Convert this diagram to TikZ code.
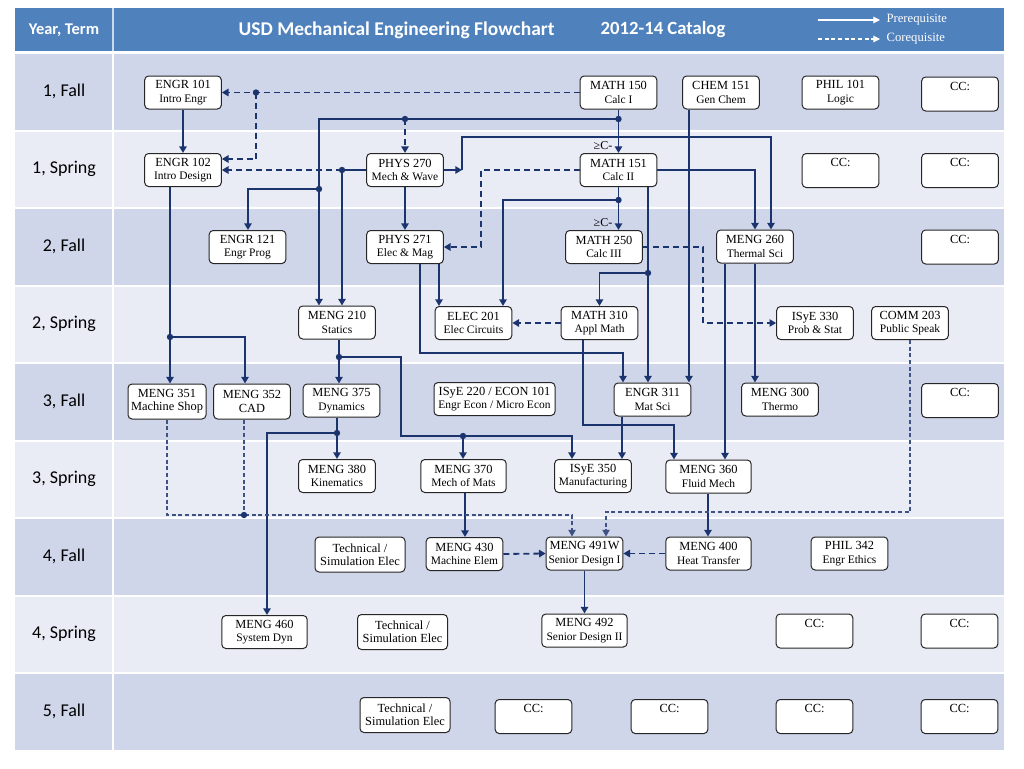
\documentclass[tikz,border=0pt]{standalone}
\usepackage{fontspec}
\setmainfont{Liberation Serif}
\newfontfamily\calibri{Carlito}
\usetikzlibrary{arrows.meta}
\definecolor{hdr}{RGB}{79,129,189}
\definecolor{rowA}{RGB}{207,214,234}
\definecolor{rowB}{RGB}{233,235,245}
\definecolor{navy}{RGB}{28,52,110}
\newcommand\crs[2]{#1\\{\fontsize{8.6}{10}\selectfont #2}}
\newcommand\crsb[2]{#1\\#2}
\begin{document}
\begin{tikzpicture}[x=0.75pt,y=-0.75pt,
  course/.style={draw=black!85, fill=white, rounded corners=3pt, line width=0.75pt, align=center,
    inner sep=1pt, minimum width=57.5pt, minimum height=24.75pt, font=\fontsize{9.3}{10}\selectfont},
  wide/.style={course, minimum width=64pt},
  tech/.style={course, minimum width=67.5pt, minimum height=26.25pt},
  ccbox/.style={course, minimum height=25.5pt},
  pre/.style={draw=navy, line width=1.35pt, -{Triangle[length=5pt,width=5.5pt]}},
  lin/.style={draw=navy, line width=1.35pt},
  co/.style={pre, dash pattern=on 4.5pt off 3pt},
  fco/.style={draw=navy!85, line width=0.9pt, dash pattern=on 3pt off 2pt, -{Triangle[length=5pt,width=5.5pt]}},
  rowlab/.style={font=\calibri\fontsize{13.5}{15}\selectfont},
  lbl/.style={font=\fontsize{9}{10}\selectfont, inner sep=0pt}
]
\useasboundingbox (0,0) rectangle (1024,768);
% header
\fill[hdr] (15,8) rectangle (1004,51);
\draw[white!70!hdr, line width=1.5pt] (113,8) -- (113,51);
\node[text=white, font=\calibri\bfseries\fontsize{12.3}{14}\selectfont] (hyt) at (64,30) {Year, Term};
\node[text=white, font=\calibri\bfseries\fontsize{14.6}{16}\selectfont, anchor=west] (htitle) at (234,30) {USD Mechanical Engineering Flowchart};
\node[text=white, font=\calibri\bfseries\fontsize{14}{16}\selectfont, anchor=west] (hcat) at (596,30) {2012-14 Catalog};
\coordinate (lgA1) at (818,20); \coordinate (lgA2) at (880,20);
\coordinate (lgB1) at (818,39); \coordinate (lgB2) at (880,39);
\draw[white, line width=0.8pt, -{Triangle[length=5pt,width=5pt]}] (lgA1) -- (lgA2);
\draw[white, line width=0.8pt, dash pattern=on 3pt off 2pt, -{Triangle[length=5pt,width=5pt]}] (lgB1) -- (lgB2);
\node[text=white, anchor=west, font=\fontsize{9.5}{10}\selectfont, inner sep=1pt] (lgA) at (885,20) {Prerequisite};
\node[text=white, anchor=west, font=\fontsize{9.5}{10}\selectfont, inner sep=1pt] (lgB) at (885,39) {Corequisite};
% rows
\fill[rowA] (15,54) rectangle (1004,129.5);
\fill[rowB] (15,131.5) rectangle (1004,207);
\fill[rowA] (15,209) rectangle (1004,284.5);
\fill[rowB] (15,286.5) rectangle (1004,362);
\fill[rowA] (15,364) rectangle (1004,439.5);
\fill[rowB] (15,441.5) rectangle (1004,517);
\fill[rowA] (15,519) rectangle (1004,594.5);
\fill[rowB] (15,596.5) rectangle (1004,672);
\fill[rowA] (15,674) rectangle (1004,749.5);
\draw[white, line width=1.5pt] (113,54) -- (113,750);
\node[rowlab] (r1) at (64,91.75) {1, Fall};
\node[rowlab] (r2) at (64,169.25) {1, Spring};
\node[rowlab] (r3) at (64,246.75) {2, Fall};
\node[rowlab] (r4) at (64,324.25) {2, Spring};
\node[rowlab] (r5) at (64,401.75) {3, Fall};
\node[rowlab] (r6) at (64,479.25) {3, Spring};
\node[rowlab] (r7) at (64,556.75) {4, Fall};
\node[rowlab] (r8) at (64,634.25) {4, Spring};
\node[rowlab] (r9) at (64,711.75) {5, Fall};
% courses
\node[course] (engr101) at (183,92.5) {\crs{ENGR 101}{Intro Engr}};
\node[course] (math150) at (618.5,92.5) {\crs{MATH 150}{Calc I}};
\node[course] (chem151) at (721,92.5) {\crs{CHEM 151}{Gen Chem}};
\node[course] (phil101) at (840.5,92.5) {\crs{PHIL 101}{Logic}};
\node[ccbox] (cc1) at (960,94) {\raisebox{12pt}{CC:}};
\node[course] (engr102) at (183,170) {\crs{ENGR 102}{Intro Design}};
\node[course] (phys270) at (405,170) {\crs{PHYS 270}{Mech \& Wave}};
\node[course] (math151) at (618.5,170) {\crs{MATH 151}{Calc II}};
\node[ccbox] (cc2) at (840.5,170.5) {\raisebox{12pt}{CC:}};
\node[ccbox] (cc3) at (960,170.5) {\raisebox{12pt}{CC:}};
\node[course] (engr121) at (247.5,247) {\crs{ENGR 121}{Engr Prog}};
\node[course] (phys271) at (405,247) {\crs{PHYS 271}{Elec \& Mag}};
\node[course] (math250) at (604,247) {\crs{MATH 250}{Calc III}};
\node[course] (meng260) at (755,246.5) {\crs{MENG 260}{Thermal Sci}};
\node[ccbox] (cc4) at (960,247) {\raisebox{12pt}{CC:}};
\node[course] (meng210) at (337,322.5) {\crs{MENG 210}{Statics}};
\node[course] (elec201) at (473.5,323) {\crs{ELEC 201}{Elec Circuits}};
\node[course] (math310) at (599.5,323) {\crs{MATH 310}{Appl Math}};
\node[course] (isye330) at (815,323) {\crs{ISyE 330}{Prob \& Stat}};
\node[course] (comm203) at (910,323) {\crs{COMM 203}{Public Speak}};
\node[course, minimum width=58.5pt, minimum height=26.25pt] (meng351) at (167,401.5) {\crsb{MENG 351}{Machine Shop}};
\node[course, minimum height=26.25pt] (meng352) at (252,401.5) {\crsb{MENG 352}{CAD}};
\node[course] (meng375) at (341.5,400.5) {\crs{MENG 375}{Dynamics}};
\node[course, minimum width=90.75pt] (isye220) at (494.5,399) {\crs{ISyE 220 / ECON 101}{Engr Econ / Micro Econ}};
\node[course] (engr311) at (652.5,399.5) {\crs{ENGR 311}{Mat Sci}};
\node[course] (meng300) at (780,399.5) {\crs{MENG 300}{Thermo}};
\node[ccbox] (cc5) at (960,400.5) {\raisebox{12pt}{CC:}};
\node[course] (meng380) at (337,476) {\crs{MENG 380}{Kinematics}};
\node[wide] (meng370) at (463.5,476) {\crs{MENG 370}{Mech of Mats}};
\node[course] (isye350) at (593,476) {\crs{ISyE 350}{Manufacturing}};
\node[wide] (meng360) at (708.5,476.5) {\crs{MENG 360}{Fluid Mech}};
\node[tech] (tech1) at (360,554.5) {Technical /\\Simulation Elec};
\node[course] (meng430) at (464.5,554) {\crs{MENG 430}{Machine Elem}};
\node[course] (meng491) at (584.5,553.5) {\crs{MENG 491W}{Senior Design I}};
\node[wide] (meng400) at (708.5,553.5) {\crs{MENG 400}{Heat Transfer}};
\node[course] (phil342) at (849.5,553.5) {\crs{PHIL 342}{Engr Ethics}};
\node[wide] (meng460) at (264.5,632) {\crs{MENG 460}{System Dyn}};
\node[tech] (tech2) at (402.5,632) {Technical /\\Simulation Elec};
\node[wide] (meng492) at (584.5,630.5) {\crs{MENG 492}{Senior Design II}};
\node[ccbox] (cc6) at (814.5,631) {\raisebox{12pt}{CC:}};
\node[ccbox] (cc7) at (959.5,631) {\raisebox{12pt}{CC:}};
\node[tech] (tech3) at (405,715) {Technical /\\Simulation Elec};
\node[ccbox] (cc8) at (533.5,716.5) {\raisebox{12pt}{CC:}};
\node[ccbox] (cc9) at (669.5,716.5) {\raisebox{12pt}{CC:}};
\node[ccbox] (cc10) at (814.5,716.5) {\raisebox{12pt}{CC:}};
\node[ccbox] (cc11) at (959.5,716.5) {\raisebox{12pt}{CC:}};
\node[lbl] (gc1) at (603,146) {≥C-};
\node[lbl] (gc2) at (603,223) {≥C-};
% junction points
\coordinate (d1) at (256,92.5);
\coordinate (d2) at (618.5,119);
\coordinate (d3) at (405,119);
\coordinate (d4) at (319,189);
\coordinate (d5) at (342,170);
\coordinate (d6) at (618.5,200);
\coordinate (d7) at (648,273);
\coordinate (d8) at (170,337);
\coordinate (d9) at (339,357);
\coordinate (d10) at (463,436);
\coordinate (d11) at (337,433);
\coordinate (d12) at (244,515);
\coordinate (c1) at (462,170);
% connectors
\draw[co] (math150.west) -- (engr101.east);
\draw[co] (d1) -- (256,159) -- (engr102.east |- 0,159);
\draw[pre] (engr101) -- (engr102);
\draw[pre] (math150.south) -- (math151.north);
\draw[pre] (d2) -| (meng210.north -| 319,0);
\draw[co] (d3) -- (phys270.north);
\draw[pre] (d4) -| (engr121.north -| 248,0);
\draw[lin] (phys270.west) -- (d5);
\draw[co] (d5) -- (engr102.east);
\draw[pre] (d5) -- (meng210.north -| d5);
\draw[pre] (phys270) -- (phys271);
\draw[pre] (phys270.east) -- (c1);
\draw[pre] (c1) |- (771,137) -- (meng260.north -| 771,0);
\draw[pre] (math151.east) -| (meng260.north);
\draw[pre] (math151.south) -- (math151.south |- math250.north);
\draw[pre] (d6) -| (elec201.north -| 503,0);
\draw[pre] (math151.south -| 648,0) -- (engr311.north -| 648,0);
\draw[pre] (d7) -| (math310.north);
\draw[co] (math151.west) -| (481,247) -- (phys271.east);
\draw[pre] (phys271.south -| 439,0) -- (elec201.north -| 439,0);
\draw[pre] (phys271.south -| 420,0) |- (623,353) -- (engr311.north -| 623,0);
\draw[co] (math250.east) -| (703,323) -- (isye330.west);
\draw[co] (math310.west) -- (elec201.east);
\draw[pre] (math310.south -| 583,0) |- (674,425) -- (meng360.north -| 674,0);
\draw[pre] (chem151.south -| 689,0) -- (engr311.north -| 689,0);
\draw[pre] (meng260.south) -- (meng300.north -| meng260.south);
\draw[pre] (meng260.south -| 725,0) -- (meng360.north -| 725,0);
\draw[pre] (engr102.south -| 170,0) -- (meng351.north -| 170,0);
\draw[pre] (d8) -| (meng352.north -| 245,0);
\draw[pre] (meng210.south -| 339,0) -- (meng375.north -| 339,0);
\draw[pre] (d9) -| (401,436) -| (isye350.north -| 572,0);
\draw[pre] (d10) -- (meng370.north -| d10);
\draw[pre] (meng375.south -| 337,0) -- (meng380.north -| 337,0);
\draw[pre] (d11) -| (meng460.north -| 267,0);
\draw[pre] (engr311.south -| 622,0) -- (isye350.north -| 622,0);
\draw[pre] (meng370.south -| 465,0) -- (meng430.north -| 465,0);
\draw[co] (meng430.east) -- (meng491.west);
\draw[co] (meng400.west) -- (meng491.east);
\draw[pre] (meng360.south -| 708,0) -- (meng400.north -| 708,0);
\draw[pre] (meng491.south) -- (meng492.north);
\draw[fco] (meng351.south -| 167,0) |- (572,515) -- (meng491.north -| 572,0);
\draw[fco, -] (meng352.south -| 244,0) -- (d12);
\draw[fco] (comm203.south) |- (606,512) -- (meng491.north -| 606,0);
% dots
\foreach \p in {d1,d2,d3,d4,d5,d6,d7,d8,d9,d10,d11,d12}
  \fill[navy] (\p) circle[radius=2.4pt];
\end{tikzpicture}
\end{document}
